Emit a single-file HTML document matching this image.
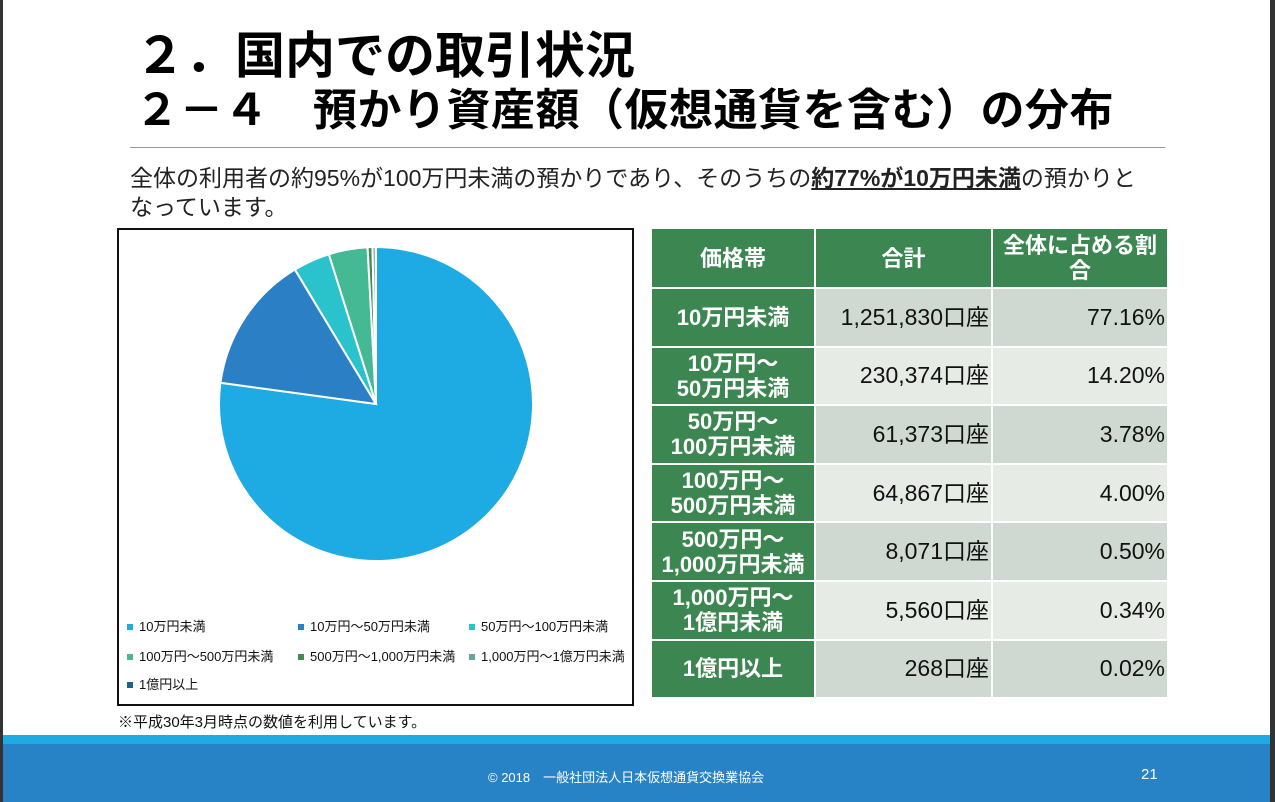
<!DOCTYPE html>
<html><head><meta charset="utf-8">
<style>
body{margin:0;width:1275px;height:802px;overflow:hidden;background:#fff;font-family:"Liberation Sans","Noto Sans CJK JP",sans-serif;position:relative}
.abs{position:absolute}
.t1{left:135px;top:27px;font-size:50px;font-weight:bold;color:#000;line-height:58px;white-space:nowrap}
.t2{left:135px;top:84px;font-size:44px;font-weight:bold;color:#000;line-height:54px;white-space:nowrap;letter-spacing:0.5px}
table{border-collapse:collapse}
td{border:2px solid #fff;padding:0;font-size:22px;text-align:center;line-height:25px}
td.h{background:#3c8651;color:#fff;font-weight:bold}
td.num{text-align:right;padding-right:2px;color:#111;font-size:23px}
</style></head><body>
<div class="abs" style="left:0;top:0;width:3px;height:802px;background:#333"></div>
<div class="abs" style="left:1270px;top:0;width:5px;height:802px;background:#333"></div>
<div class="abs t1">２．国内での取引状況</div>
<div class="abs t2">２－４　預かり資産額（仮想通貨を含む）の分布</div>
<div class="abs" style="left:130px;top:147px;width:1035px;height:1px;background:#999"></div>
<div class="abs" style="left:130px;top:164px;width:1050px;font-size:23px;line-height:29px;color:#222">全体の利用者の約95%が100万円未満の預かりであり、そのうちの<b style="text-decoration:underline">約77%が10万円未満</b>の預かりと<br>なっています。</div>

<div class="abs" style="left:117px;top:228px;width:513px;height:474px;border:2px solid #111">
<svg id="pie" width="513" height="474"></svg>
</div>
<div class="abs" style="left:118px;top:711px;font-size:15px;color:#111">※平成30年3月時点の数値を利用しています。</div>

<table class="abs" style="left:650px;top:227px">
<tr style="height:60px"><td class="h" style="width:162px">価格帯</td><td class="h" style="width:175px">合計</td><td class="h" style="width:174px">全体に占める割合</td></tr>
</table>
<table class="abs" style="left:650px;top:287px" id="tbl"></table>

<div class="abs" style="left:3px;top:735px;width:1267px;height:9px;background:#1eaae2"></div>
<div class="abs" style="left:3px;top:744px;width:1267px;height:58px;background:#2882c6"></div>
<div class="abs" style="left:488px;top:767px;font-size:13px;color:#fff">© 2018　一般社団法人日本仮想通貨交換業協会</div>
<div class="abs" style="left:1141px;top:766px;font-size:15px;color:#fff">21</div>

<script>
const categories=["10万円未満","10万円～50万円未満","50万円～100万円未満","100万円～500万円未満","500万円～1,000万円未満","1,000万円～1億万円未満","1億円以上"];
const rowLabels=["10万円未満","10万円～<br>50万円未満","50万円～<br>100万円未満","100万円～<br>500万円未満","500万円～<br>1,000万円未満","1,000万円～<br>1億円未満","1億円以上"];
const counts=[1251830,230374,61373,64867,8071,5560,268];
const countLabels=["1,251,830口座","230,374口座","61,373口座","64,867口座","8,071口座","5,560口座","268口座"];
const pctLabels=["77.16%","14.20%","3.78%","4.00%","0.50%","0.34%","0.02%"];
const colors=["#1eaae2","#2a7fc5","#2ac3cc","#45b994","#3f8a55","#64a7a0","#1a6391"];
const NS="http://www.w3.org/2000/svg";
const svg=document.getElementById('pie');
const cx=257,cy=174,r=157;
const total=counts.reduce((a,b)=>a+b,0);
let a0=0;
counts.forEach((v,i)=>{
  const a1=a0+v/total*2*Math.PI;
  const p=document.createElementNS(NS,'path');
  const x0=cx+r*Math.sin(a0),y0=cy-r*Math.cos(a0),x1=cx+r*Math.sin(a1),y1=cy-r*Math.cos(a1);
  p.setAttribute('d',`M${cx},${cy}L${x0},${y0}A${r},${r} 0 ${a1-a0>Math.PI?1:0} 1 ${x1},${y1}Z`);
  p.setAttribute('fill',colors[i]);p.setAttribute('stroke','#fff');p.setAttribute('stroke-width','2');
  
  
  svg.appendChild(p);
  a0=a1;
});
const lx=[8,179,350],ly=[398,428,456];
categories.forEach((c,i)=>{
  const g=document.createElementNS(NS,'g');
  
  
  const x=lx[i%3],y=ly[Math.floor(i/3)];
  const s=document.createElementNS(NS,'rect');
  s.setAttribute('x',x);s.setAttribute('y',y-4);s.setAttribute('width',6);s.setAttribute('height',6);s.setAttribute('fill',colors[i]);
  const t=document.createElementNS(NS,'text');
  t.setAttribute('x',x+12);t.setAttribute('y',y+3);t.setAttribute('font-size','13');t.setAttribute('fill','#111');
  t.textContent=c;
  g.appendChild(s);g.appendChild(t);svg.appendChild(g);
});
const tbl=document.getElementById('tbl');
rowLabels.forEach((l,i)=>{
  const tr=document.createElement('tr');
  tr.style.height='58.6px';
  
  
  const bg=i%2?'#e6ebe6':'#cfd9d1';
  tr.innerHTML=`<td class="h" style="width:162px">${l}</td><td class="num" style="width:173px;background:${bg}">${countLabels[i]}</td><td class="num" style="width:172px;background:${bg}">${pctLabels[i]}</td>`;
  tbl.appendChild(tr);
});
</script>
</body></html>
